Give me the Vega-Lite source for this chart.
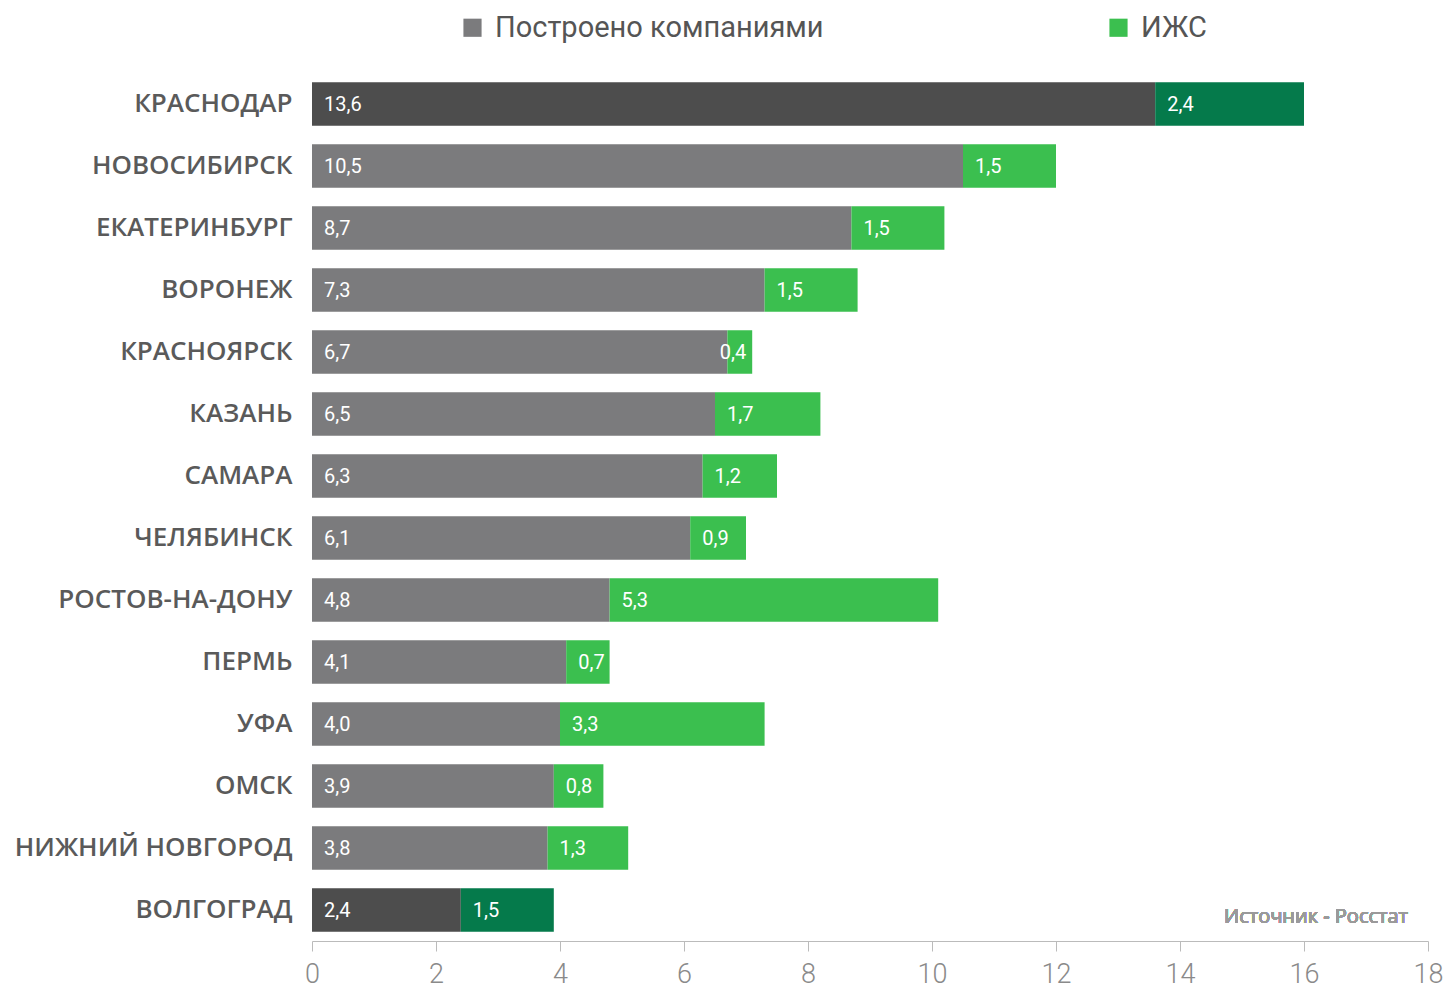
{
  "$schema": "https://vega.github.io/schema/vega-lite/v6.json",
  "width": 1116,
  "height": 868,
  "autosize": {"type": "none"},
  "padding": {"left": 312, "top": 73, "right": 15, "bottom": 49},
  "background": "white",
  "config": {
    "view": {"stroke": null},
    "font": "Roboto",
    "locale": {"number": {"decimal": ",", "thousands": " ", "grouping": [3], "currency": ["", ""]}}
  },
  "data": {
    "values": [
      {"city": "КРАСНОДАР", "series": "Построено компаниями", "value": 13.6},
      {"city": "КРАСНОДАР", "series": "ИЖС", "value": 2.4},
      {"city": "НОВОСИБИРСК", "series": "Построено компаниями", "value": 10.5},
      {"city": "НОВОСИБИРСК", "series": "ИЖС", "value": 1.5},
      {"city": "ЕКАТЕРИНБУРГ", "series": "Построено компаниями", "value": 8.7},
      {"city": "ЕКАТЕРИНБУРГ", "series": "ИЖС", "value": 1.5},
      {"city": "ВОРОНЕЖ", "series": "Построено компаниями", "value": 7.3},
      {"city": "ВОРОНЕЖ", "series": "ИЖС", "value": 1.5},
      {"city": "КРАСНОЯРСК", "series": "Построено компаниями", "value": 6.7},
      {"city": "КРАСНОЯРСК", "series": "ИЖС", "value": 0.4},
      {"city": "КАЗАНЬ", "series": "Построено компаниями", "value": 6.5},
      {"city": "КАЗАНЬ", "series": "ИЖС", "value": 1.7},
      {"city": "САМАРА", "series": "Построено компаниями", "value": 6.3},
      {"city": "САМАРА", "series": "ИЖС", "value": 1.2},
      {"city": "ЧЕЛЯБИНСК", "series": "Построено компаниями", "value": 6.1},
      {"city": "ЧЕЛЯБИНСК", "series": "ИЖС", "value": 0.9},
      {"city": "РОСТОВ-НА-ДОНУ", "series": "Построено компаниями", "value": 4.8},
      {"city": "РОСТОВ-НА-ДОНУ", "series": "ИЖС", "value": 5.3},
      {"city": "ПЕРМЬ", "series": "Построено компаниями", "value": 4.1},
      {"city": "ПЕРМЬ", "series": "ИЖС", "value": 0.7},
      {"city": "УФА", "series": "Построено компаниями", "value": 4.0},
      {"city": "УФА", "series": "ИЖС", "value": 3.3},
      {"city": "ОМСК", "series": "Построено компаниями", "value": 3.9},
      {"city": "ОМСК", "series": "ИЖС", "value": 0.8},
      {"city": "НИЖНИЙ НОВГОРОД", "series": "Построено компаниями", "value": 3.8},
      {"city": "НИЖНИЙ НОВГОРОД", "series": "ИЖС", "value": 1.3},
      {"city": "ВОЛГОГРАД", "series": "Построено компаниями", "value": 2.4},
      {"city": "ВОЛГОГРАД", "series": "ИЖС", "value": 1.5}
    ]
  },
  "transform": [
    {"stack": "value", "groupby": ["city"], "sort": [{"field": "series", "order": "descending"}], "as": ["v0", "v1"]}
  ],
  "encoding": {
    "y": {
      "field": "city",
      "type": "nominal",
      "sort": ["КРАСНОДАР", "НОВОСИБИРСК", "ЕКАТЕРИНБУРГ", "ВОРОНЕЖ", "КРАСНОЯРСК", "КАЗАНЬ", "САМАРА", "ЧЕЛЯБИНСК", "РОСТОВ-НА-ДОНУ", "ПЕРМЬ", "УФА", "ОМСК", "НИЖНИЙ НОВГОРОД", "ВОЛГОГРАД"],
      "scale": {"paddingInner": 0.3, "paddingOuter": 0.15},
      "axis": {
        "title": null,
        "domain": false,
        "ticks": false,
        "labelPadding": 20,
        "labelFontSize": 26,
        "labelFontWeight": 600,
        "labelColor": "#5a5a5a",
        "labelFont": "Open Sans",
        "labelLimit": 400
      }
    }
  },
  "layer": [
    {
      "mark": {"type": "bar"},
      "encoding": {
        "x": {
          "field": "v0",
          "type": "quantitative",
          "scale": {"domain": [0, 18], "nice": false},
          "axis": {
            "title": null,
            "values": [0, 2, 4, 6, 8, 10, 12, 14, 16, 18],
            "format": "d",
            "grid": false,
            "domainColor": "#bbbbbb",
            "tickColor": "#bbbbbb",
            "tickSize": 10,
            "labelFontSize": 27,
            "labelFontWeight": 300,
            "labelColor": "#8a8a8a",
            "labelPadding": 10,
            "labelFlush": false
          }
        },
        "x2": {"field": "v1"},
        "color": {
          "condition": [
            {"test": "indexof(['КРАСНОДАР','ВОЛГОГРАД'], datum.city) >= 0 && datum.series == 'ИЖС'", "value": "#057a4b"},
            {"test": "indexof(['КРАСНОДАР','ВОЛГОГРАД'], datum.city) >= 0", "value": "#4d4d4d"}
          ],
          "field": "series",
          "type": "nominal",
          "scale": {"domain": ["Построено компаниями", "ИЖС"], "range": ["#7b7b7d", "#3bbf4f"]},
          "legend": {
            "title": null,
            "orient": "none",
            "direction": "horizontal",
            "legendX": 146,
            "legendY": -60,
            "symbolType": "square",
            "symbolSize": 330,
            "symbolStrokeWidth": 0,
            "labelFontSize": 29,
            "labelColor": "#555555",
            "labelOffset": 8,
            "columnPadding": 280,
            "labelLimit": 600
          }
        }
      }
    },
    {
      "transform": [{"filter": "datum.value >= 0.5"}],
      "mark": {"type": "text", "align": "left", "baseline": "middle", "dx": 12, "dy": 1, "color": "white", "fontSize": 20},
      "encoding": {
        "x": {"field": "v0", "type": "quantitative"},
        "text": {"field": "value", "type": "quantitative", "format": ".1f"}
      }
    },
    {
      "transform": [{"filter": "datum.value < 0.5"}],
      "mark": {"type": "text", "align": "right", "baseline": "middle", "dx": -6, "dy": 1, "color": "white", "fontSize": 20},
      "encoding": {
        "x": {"field": "v1", "type": "quantitative"},
        "text": {"field": "value", "type": "quantitative", "format": ".1f"}
      }
    },
    {
      "mark": {"type": "text", "align": "right", "baseline": "middle", "dx": -20, "dy": 7, "color": "#9a9a9a", "fontSize": 20, "font": "Open Sans", "fontWeight": "normal"},
      "encoding": {
        "x": {"datum": 18, "type": "quantitative"},
        "y": {"datum": "ВОЛГОГРАД", "type": "nominal"},
        "text": {"value": "Источник - Росстат"}
      }
    }
  ]
}
